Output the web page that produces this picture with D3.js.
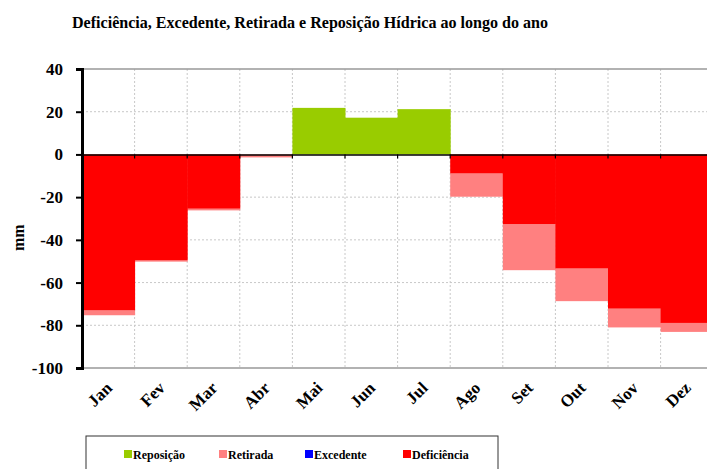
<!DOCTYPE html>
<html>
<head>
<meta charset="utf-8">
<script src="https://cdn.jsdelivr.net/npm/d3@7"></script>
<style>
  body { margin: 0; background: #fff; }
  svg text { font-family: "Liberation Serif", "Times New Roman", serif; font-weight: bold; }
</style>
</head>
<body>
<div id="chart"></div>
<script>
// data (mm)
var months = ['Jan', 'Fev', 'Mar', 'Abr', 'Mai', 'Jun', 'Jul', 'Ago', 'Set', 'Out', 'Nov', 'Dez']
var deficiencia = [-73, -49.6, -25.4, 0, 0, 0, 0, -8.9, -32.6, -53.4, -72.2, -78.9]
var retirada = [-2.3, -0.6, -0.8, -1.4, 0, 0, 0, -10.9, -21.6, -15.3, -8.8, -4.2]
var reposicao = [0, 0, 0, 0, 21.8, 17.2, 21.2, 0, 0, 0, 0, 0]
var excedente = [0, 0, 0, 0, 0, 0, 0, 0, 0, 0, 0, 0]
var yTicks = [40, 20, 0, -20, -40, -60, -80, -100]

var legendItems = [
  { label: 'Reposição', color: '#99cc00' },
  { label: 'Retirada', color: '#ff8080' },
  { label: 'Excedente', color: '#0000ff' },
  { label: 'Deficiência', color: '#ff0000' }
]

var width = 707
var height = 469
var plotLeft = 82
var plotTop = 69
var plotBottom = 368
var serif = '"Liberation Serif", "Times New Roman", serif'

var svg = d3.select('#chart').append('svg')
  .attr('width', width)
  .attr('height', height)
  .attr('font-family', serif)
  .attr('font-weight', 'bold')

var xScale = d3.scaleBand()
  .domain(months)
  .range([plotLeft, plotLeft + 12 * 52.6])
  .padding(0)

var yScale = d3.scaleLinear()
  .domain([-100, 40])
  .range([plotBottom, plotTop])

// title
svg.append('text')
  .attr('x', 72)
  .attr('y', 28)
  .attr('font-size', 16)
  .attr('textLength', 476)
  .attr('lengthAdjust', 'spacingAndGlyphs')
  .text('Deficiência, Excedente, Retirada e Reposição Hídrica ao longo do ano')

// gridlines
var grid = svg.append('g').attr('stroke', '#c8c8c8').attr('stroke-dasharray', '2,2').attr('stroke-width', 1)
grid.selectAll('.hg')
  .data(yTicks.filter(function(d) { return d !== 0 && d !== -100 && d !== 40 }))
  .enter().append('line')
  .attr('x1', plotLeft).attr('x2', width)
  .attr('y1', function(d) { return yScale(d) })
  .attr('y2', function(d) { return yScale(d) })
grid.selectAll('.vg')
  .data(months.slice(1))
  .enter().append('line')
  .attr('x1', function(d) { return xScale(d) })
  .attr('x2', function(d) { return xScale(d) })
  .attr('y1', plotTop).attr('y2', plotBottom)

// plot frame top/bottom
svg.append('line').attr('x1', plotLeft).attr('x2', width).attr('y1', plotTop).attr('y2', plotTop)
  .attr('stroke', '#999').attr('stroke-width', 1.5)
svg.append('line').attr('x1', plotLeft).attr('x2', width).attr('y1', plotBottom).attr('y2', plotBottom)
  .attr('stroke', '#999').attr('stroke-width', 1.5)

// bars
var bw = xScale.bandwidth()
svg.append('g').selectAll('rect')
  .data(months)
  .enter().append('rect')
  .attr('x', function(d) { return xScale(d) })
  .attr('width', bw + 0.5)
  .attr('y', function(d, i) { return yScale(reposicao[i]) })
  .attr('height', function(d, i) { return yScale(0) - yScale(reposicao[i]) })
  .attr('fill', '#99cc00')

svg.append('g').selectAll('rect')
  .data(months)
  .enter().append('rect')
  .attr('x', function(d) { return xScale(d) })
  .attr('width', bw + 0.5)
  .attr('y', function(d, i) { return yScale(deficiencia[i]) })
  .attr('height', function(d, i) { return yScale(deficiencia[i] + retirada[i]) - yScale(deficiencia[i]) })
  .attr('fill', '#ff8080')

svg.append('g').selectAll('rect')
  .data(months)
  .enter().append('rect')
  .attr('x', function(d) { return xScale(d) })
  .attr('width', bw + 0.5)
  .attr('y', yScale(0))
  .attr('height', function(d, i) { return yScale(deficiencia[i]) - yScale(0) })
  .attr('fill', '#ff0000')

svg.append('g').selectAll('rect')
  .data(months)
  .enter().append('rect')
  .attr('x', function(d) { return xScale(d) })
  .attr('width', bw + 0.5)
  .attr('y', function(d, i) { return yScale(excedente[i]) })
  .attr('height', function(d, i) { return yScale(0) - yScale(excedente[i]) })
  .attr('fill', '#0000ff')

// zero line with ticks
var xAxis = d3.axisBottom(xScale).tickSize(0).tickFormat('')
svg.append('g')
  .attr('transform', 'translate(0,' + yScale(0) + ')')
  .call(xAxis)
  .call(function(g) { g.select('.domain').attr('stroke', '#000').attr('stroke-width', 1.5) })
svg.append('g').selectAll('line')
  .data(months.slice(1))
  .enter().append('line')
  .attr('x1', function(d) { return xScale(d) })
  .attr('x2', function(d) { return xScale(d) })
  .attr('y1', yScale(0)).attr('y2', yScale(0) + 4)
  .attr('stroke', '#000').attr('stroke-width', 1.2)

// month labels
svg.append('g').selectAll('text')
  .data(months)
  .enter().append('text')
  .attr('font-size', 17)
  .attr('text-anchor', 'end')
  .attr('transform', function(d) {
    return 'translate(' + (xScale(d) + bw / 2 + 5) + ',389) rotate(-45)'
  })
  .text(function(d) { return d })

// y axis (plain hyphen for negatives, like the original)
var yAxis = d3.axisLeft(yScale)
  .tickValues(yTicks)
  .tickFormat(function(d) { return String(d) })
  .tickSize(6)
  .tickPadding(13)
svg.append('g')
  .attr('transform', 'translate(' + plotLeft + ',0)')
  .call(yAxis)
  .call(function(g) {
    g.select('.domain').attr('stroke', '#000').attr('stroke-width', 3)
    g.selectAll('.tick line').attr('stroke', '#000').attr('stroke-width', 2)
    g.selectAll('.tick text')
      .attr('font-size', 17)
      .attr('font-family', serif)
      .attr('font-weight', 'bold')
      .attr('fill', '#000')
  })

svg.append('text')
  .attr('transform', 'translate(24,' + yScale(-39) + ') rotate(-90)')
  .attr('text-anchor', 'middle')
  .attr('font-size', 16)
  .text('mm')

// legend
svg.append('rect')
  .attr('x', 86).attr('y', 436)
  .attr('width', 412).attr('height', 40)
  .attr('fill', '#fff')
  .attr('stroke', '#333').attr('stroke-width', 1)

var legendX = [124, 219, 305, 403]
var lg = svg.append('g').selectAll('g')
  .data(legendItems)
  .enter().append('g')
  .attr('transform', function(d, i) { return 'translate(' + legendX[i] + ',459)' })
lg.append('rect')
  .attr('x', 0).attr('y', -9)
  .attr('width', 8).attr('height', 8)
  .attr('fill', function(d) { return d.color })
lg.append('text')
  .attr('x', 9).attr('y', 0)
  .attr('font-size', 12)
  .text(function(d) { return d.label })
</script>
</body>
</html>
